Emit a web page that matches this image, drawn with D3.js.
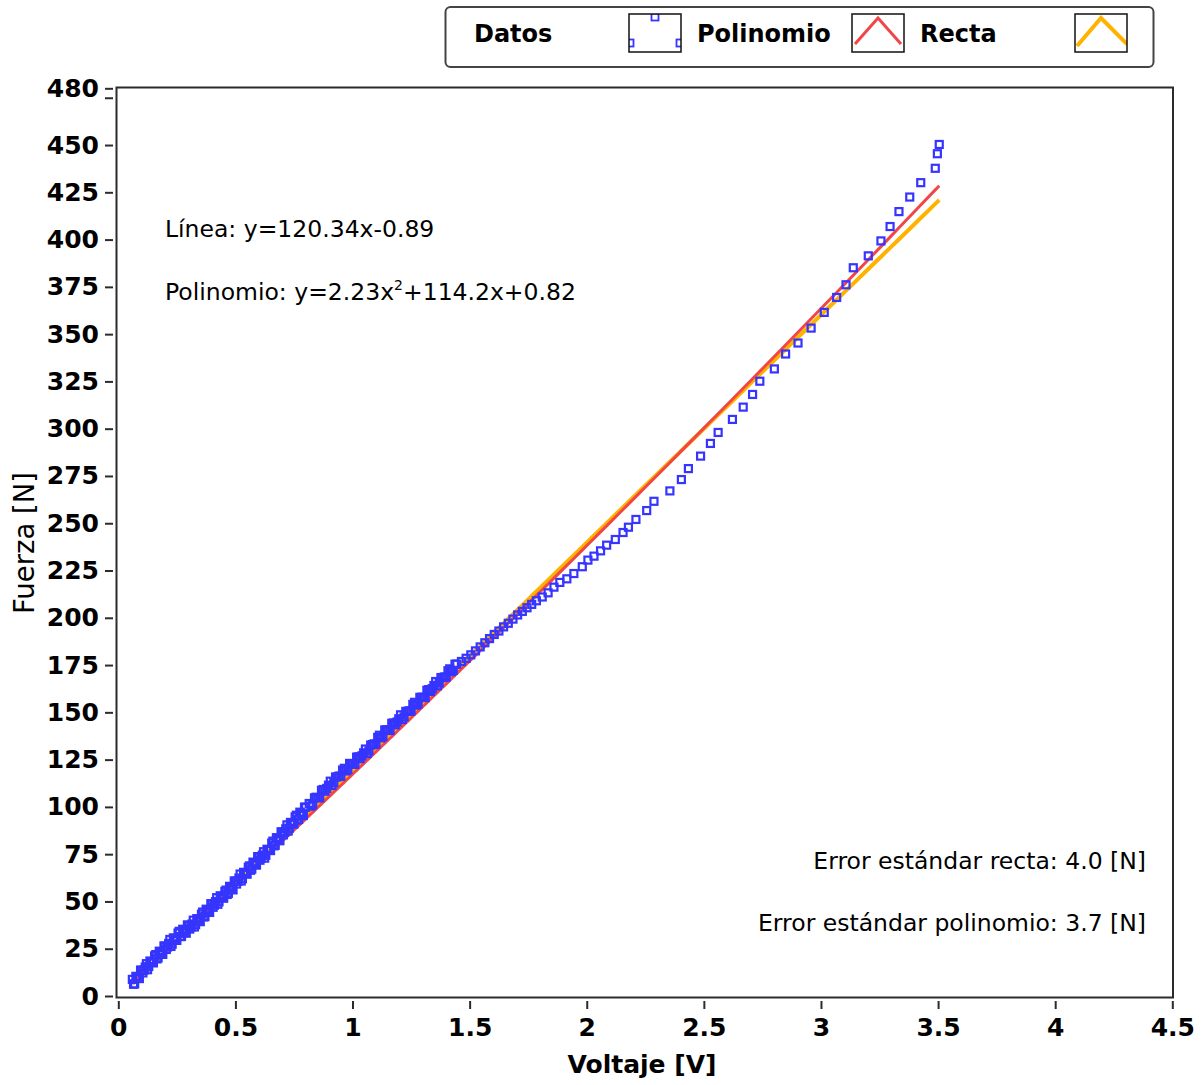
<!DOCTYPE html>
<html>
<head>
<meta charset="utf-8">
<script src="https://cdn.jsdelivr.net/npm/d3@7"></script>
<style>
  html, body { margin: 0; padding: 0; background: #fff; }
  svg { display: block; }
  text { font-family: "DejaVu Sans", Verdana, sans-serif; fill: #000; }
</style>
</head>
<body>
<div id="chart"></div>
<script>
// Medición, barrido 1: voltaje del sensor [V] y fuerza aplicada [N]
const voltaje = [
  0.06, 0.07, 0.08, 0.09, 0.10, 0.11, 0.12, 0.13, 0.14, 0.15,
  0.16, 0.17, 0.18, 0.19, 0.20, 0.21, 0.22, 0.23, 0.24, 0.25,
  0.26, 0.27, 0.28, 0.29, 0.30, 0.31, 0.32, 0.33, 0.34, 0.35,
  0.36, 0.37, 0.38, 0.39, 0.40, 0.41, 0.42, 0.43, 0.44, 0.45,
  0.46, 0.47, 0.48, 0.49, 0.50, 0.51, 0.52, 0.53, 0.54, 0.55,
  0.56, 0.57, 0.58, 0.59, 0.60, 0.61, 0.62, 0.63, 0.64, 0.65,
  0.66, 0.67, 0.68, 0.69, 0.70, 0.71, 0.72, 0.73, 0.74, 0.75,
  0.76, 0.77, 0.78, 0.79, 0.80,
  0.815, 0.83, 0.845, 0.86, 0.875, 0.89, 0.905, 0.92, 0.935, 0.95,
  0.965, 0.98, 0.995, 1.01, 1.025, 1.04, 1.055, 1.07, 1.085, 1.10,
  1.115, 1.13, 1.145, 1.16, 1.175, 1.19, 1.205, 1.22, 1.235, 1.25,
  1.265, 1.28, 1.295, 1.31, 1.325, 1.34, 1.355, 1.37, 1.385, 1.40,
  1.415, 1.43, 1.445,
  1.465, 1.485, 1.505, 1.525, 1.545, 1.565, 1.585, 1.605, 1.625, 1.645,
  1.665, 1.685, 1.705, 1.725, 1.745, 1.765, 1.785, 1.81, 1.835, 1.86,
  1.885, 1.915, 1.945,
  1.981, 2.005, 2.031, 2.059, 2.085, 2.122, 2.155, 2.178, 2.210, 2.256,
  2.287, 2.355, 2.404, 2.434, 2.486, 2.528, 2.561, 2.622, 2.668, 2.708,
  2.739, 2.801, 2.849, 2.902, 2.958, 3.014, 3.067, 3.107, 3.138, 3.202,
  3.256, 3.295, 3.333, 3.379, 3.426, 3.488, 3.497, 3.505
];
const fuerza = [
  8.8, 6.4, 10.2, 9.2, 13.6, 13.7, 17.1, 15.6, 17.9, 17.5,
  21.9, 20.1, 23.1, 22.0, 26.3, 25.9, 29.9, 27.4, 30.5, 29.4,
  34.2, 31.5, 34.9, 33.2, 37.3, 36.4, 40.1, 37.7, 40.5, 39.3,
  44.4, 42.0, 45.7, 44.2, 48.8, 48.0, 52.0, 49.8, 52.6, 51.7,
  56.0, 54.3, 57.6, 56.1, 60.8, 60.6, 64.5, 62.0, 65.2, 64.4,
  68.8, 67.1, 70.4, 69.2, 73.6, 72.9, 76.3, 74.4, 77.3, 76.9,
  81.9, 79.7, 83.5, 82.1, 86.8, 86.6, 90.5, 88.7, 91.4, 90.9,
  95.6, 93.4, 96.9, 95.4, 99.8,
  101.8, 101.1, 105.1, 104.8, 109.2, 109.8, 113.6, 112.8, 115.9, 116.2,
  120.4, 119.7, 122.9, 122.5, 126.5, 127.0, 130.6, 129.6, 133.0, 133.2,
  137.9, 137.2, 140.8, 140.4, 144.4, 144.9, 148.7, 147.6, 150.5, 150.7,
  155.3, 154.4, 158.0, 157.8, 162.0, 162.5, 166.3, 165.5, 168.4, 168.6,
  173.0, 172.2, 175.5,
  176.9, 178.6, 180.4, 182.5, 184.6, 186.8, 189.0, 191.2, 193.0, 195.2,
  197.1, 199.3, 201.5, 203.4, 205.3, 207.1, 209.0, 211.0, 213.2, 216.2,
  218.7, 220.6, 223.4,
  227.0, 230.5, 232.6, 235.4, 238.4, 241.4, 245.1, 247.9, 252.0, 256.7,
  261.6, 267.1, 273.1, 278.9, 285.5, 292.2, 298.0, 304.9, 311.4, 318.1,
  325.1, 331.6, 339.5, 345.3, 353.2, 361.5, 369.4, 376.1, 385.1, 391.4,
  399.3, 406.9, 414.8, 422.5, 430.1, 437.7, 445.4, 450.3
];

// Medición, barrido 2 (tramo bajo)
const voltaje2 = [
  0.065, 0.075, 0.085, 0.095, 0.105, 0.115, 0.125, 0.135, 0.145, 0.155,
  0.165, 0.175, 0.185, 0.195, 0.205, 0.215, 0.225, 0.235, 0.245, 0.255,
  0.265, 0.275, 0.285, 0.295, 0.305, 0.315, 0.325, 0.335, 0.345, 0.355,
  0.365, 0.375, 0.385, 0.395, 0.405, 0.415, 0.425, 0.435, 0.445, 0.455,
  0.465, 0.475, 0.485, 0.495, 0.505, 0.515, 0.525, 0.535, 0.545, 0.555,
  0.565, 0.575, 0.585, 0.595, 0.605, 0.615, 0.625, 0.635, 0.645, 0.655,
  0.665, 0.675, 0.685, 0.695, 0.705, 0.715, 0.725, 0.735, 0.745, 0.755,
  0.765, 0.775, 0.785, 0.795,
  0.8225, 0.8375, 0.8525, 0.8675, 0.8825, 0.8975, 0.9125, 0.9275, 0.9425, 0.9575,
  0.9725, 0.9875, 1.0025, 1.0175, 1.0325, 1.0475, 1.0625, 1.0775, 1.0925, 1.1075,
  1.1225, 1.1375, 1.1525, 1.1675, 1.1825, 1.1975, 1.2125, 1.2275, 1.2425, 1.2575,
  1.2725, 1.2875, 1.3025, 1.3175, 1.3325, 1.3475, 1.3625, 1.3775, 1.3925, 1.4075,
  1.4225, 1.4375
];
const fuerza2 = [
  6.2, 10.4, 9.6, 13.7, 12.2, 15.3, 13.9, 18.5, 17.9, 21.2,
  19.6, 23.7, 22.5, 26.5, 24.6, 27.8, 26.2, 30.7, 30.2, 33.3,
  31.4, 35.3, 34.0, 37.6, 35.4, 38.1, 36.5, 40.9, 40.1, 43.3,
  41.8, 45.9, 44.9, 48.8, 46.9, 49.9, 48.5, 53.0, 52.4, 55.3,
  53.7, 58.0, 56.8, 60.8, 59.2, 62.4, 60.8, 65.4, 65.0, 68.1,
  66.5, 70.8, 69.7, 73.7, 71.8, 74.5, 72.9, 77.6, 77.3, 80.9,
  79.4, 83.7, 82.7, 86.8, 85.2, 88.4, 87.2, 91.8, 91.4, 94.7,
  93.1, 97.2, 96.1, 99.9,
  100.4, 104.8, 104.9, 108.8, 108.3, 111.5, 111.3, 115.8, 116.3, 119.5,
  119.0, 123.0, 122.7, 126.3, 125.5, 128.6, 128.2, 132.7, 133.3, 136.8,
  136.5, 140.7, 140.6, 144.2, 143.4, 146.6, 146.2, 150.5, 150.8, 154.2,
  153.8, 157.9, 157.9, 161.7, 161.0, 164.2, 164.0, 168.4, 168.7, 172.0,
  171.5, 175.5
];

// Coeficientes de los ajustes
const recta = { m: 120.34, b: -0.89 };
const polinomio = { a: 2.23, b: 114.2, c: 0.82 };

// Ejes
const xTicks = [0, 0.5, 1, 1.5, 2, 2.5, 3, 3.5, 4, 4.5];
const yTicks = [0, 25, 50, 75, 100, 125, 150, 175, 200, 225, 250, 275, 300,
                325, 350, 375, 400, 425, 450, 475, 480];
const yTickLabels = [0, 25, 50, 75, 100, 125, 150, 175, 200, 225, 250, 275, 300,
                325, 350, 375, 400, 425, 450, 480];

const legendItems = ["Datos", "Polinomio", "Recta"];
const errores = ["Error estándar recta: 4.0 [N]", "Error estándar polinomio: 3.7 [N]"];

const W = 1203, H = 1085;
const frame = { left: 116.5, right: 1173, top: 87.5, bottom: 997.5 };

const svg = d3.select("#chart").append("svg")
  .attr("width", W).attr("height", H);

const x = d3.scaleLinear().domain([0, 4.5]).range([118.3, 1172.3]);
const y = d3.scaleLinear().domain([0, 480]).range([996, 88.3]);

const INK = "#2b2b2b";
const BLUE = "#3535ff", RED = "#f24646", ORANGE = "#ffb300";

// Marco del área de trazado
svg.append("rect")
  .attr("x", frame.left).attr("y", frame.top)
  .attr("width", frame.right - frame.left).attr("height", frame.bottom - frame.top)
  .attr("fill", "#fff").attr("stroke", INK).attr("stroke-width", 2);

// Eje Y
const gy = svg.append("g")
  .attr("transform", "translate(113,0)")
  .call(d3.axisLeft(y).tickValues(yTicks).tickSize(8).tickPadding(6)
        .tickFormat(d => yTickLabels.includes(d) ? String(d) : ""));
gy.select(".domain").remove();
gy.selectAll(".tick line").attr("stroke", INK).attr("stroke-width", 2);
gy.selectAll(".tick text")
  .style("font-family", "'DejaVu Sans', sans-serif")
  .style("font-weight", "bold").style("font-size", "25px").attr("fill", "#000");

// Eje X
const gx = svg.append("g")
  .attr("transform", "translate(0,1001)")
  .call(d3.axisBottom(x).tickValues(xTicks).tickSize(8).tickPadding(9)
        .tickFormat(d3.format("")));
gx.select(".domain").remove();
gx.selectAll(".tick line").attr("stroke", INK).attr("stroke-width", 2);
gx.selectAll(".tick text")
  .style("font-family", "'DejaVu Sans', sans-serif")
  .style("font-weight", "bold").style("font-size", "25px").attr("fill", "#000");

// Títulos de los ejes
svg.append("text")
  .attr("x", 642).attr("y", 1073).attr("text-anchor", "middle")
  .style("font-weight", "bold").style("font-size", "25px")
  .text("Voltaje [V]");
svg.append("text")
  .attr("transform", "translate(34,543) rotate(-90)")
  .attr("text-anchor", "middle")
  .style("font-size", "27.5px")
  .text("Fuerza [N]");

// Curvas ajustadas evaluadas en cada voltaje medido
const plot = svg.append("g");
const todosV = d3.sort(voltaje.concat(voltaje2));
const fitRecta = todosV.map(v => [v, recta.m * v + recta.b]);
const fitPoli = todosV.map(v => [v, polinomio.a * v * v + polinomio.b * v + polinomio.c]);
const line = d3.line().x(d => x(d[0])).y(d => y(d[1]));

plot.append("path").datum(fitRecta)
  .attr("d", line).attr("fill", "none")
  .attr("stroke", ORANGE).attr("stroke-width", 4).attr("stroke-linejoin", "round");
plot.append("path").datum(fitPoli)
  .attr("d", line).attr("fill", "none")
  .attr("stroke", RED).attr("stroke-width", 3).attr("stroke-linejoin", "round");

// Datos medidos (cuadros huecos)
const S = 7;
const datos = d3.zip(voltaje, fuerza).concat(d3.zip(voltaje2, fuerza2));
plot.selectAll("rect.dato")
  .data(datos)
  .join("rect").attr("class", "dato")
  .attr("x", d => x(d[0]) - S / 2).attr("y", d => y(d[1]) - S / 2)
  .attr("width", S).attr("height", S)
  .attr("fill", "none").attr("stroke", BLUE).attr("stroke-width", 2.2);

// Ecuaciones de ajuste
const eq = svg.append("g").style("font-size", "23.5px");
eq.append("text").attr("x", 165).attr("y", 237).text("Línea: y=120.34x-0.89");
const t2 = eq.append("text").attr("x", 165).attr("y", 300);
t2.append("tspan").text("Polinomio: y=2.23x");
t2.append("tspan").attr("dy", -10).style("font-size", "14px").text("2");
t2.append("tspan").attr("dy", 10).text("+114.2x+0.82");

// Errores estándar
svg.append("g").style("font-size", "23.5px")
  .selectAll("text").data(errores).join("text")
  .attr("x", 1146).attr("y", (d, i) => 869 + i * 62)
  .attr("text-anchor", "end").text(d => d);

// Leyenda
const leg = svg.append("g");
leg.append("rect")
  .attr("x", 445.5).attr("y", 7).attr("width", 708).attr("height", 60)
  .attr("rx", 5).attr("fill", "#fff").attr("stroke", "#444").attr("stroke-width", 2);
const labelX = [474, 697, 920];
leg.selectAll("text.lab").data(legendItems).join("text").attr("class", "lab")
  .attr("x", (d, i) => labelX[i]).attr("y", 42)
  .style("font-weight", "bold").style("font-size", "24px").text(d => d);

const swX = [629, 852, 1075];
const defs = svg.append("defs");
swX.forEach((sx, i) => {
  defs.append("clipPath").attr("id", "sw" + i)
    .append("rect").attr("x", sx).attr("y", 14).attr("width", 52).attr("height", 38);
});
// Muestra de datos
const sw0 = leg.append("g").attr("clip-path", "url(#sw0)");
[[655, 17], [630, 43], [680, 43]].forEach(p => {
  sw0.append("rect").attr("x", p[0] - 3.5).attr("y", p[1] - 3.5)
    .attr("width", 7).attr("height", 7)
    .attr("fill", "none").attr("stroke", BLUE).attr("stroke-width", 1.8);
});
// Muestras de las curvas
const chevron = d3.line();
leg.append("g").attr("clip-path", "url(#sw1)")
  .append("path").attr("d", chevron([[855, 44], [878, 18], [901, 44]]))
  .attr("fill", "none").attr("stroke", RED).attr("stroke-width", 3);
leg.append("g").attr("clip-path", "url(#sw2)")
  .append("path").attr("d", chevron([[1077, 46], [1101, 18], [1127, 44]]))
  .attr("fill", "none").attr("stroke", ORANGE).attr("stroke-width", 4);
swX.forEach(sx => {
  leg.append("rect").attr("x", sx).attr("y", 14).attr("width", 52).attr("height", 38)
    .attr("fill", "none").attr("stroke", "#111").attr("stroke-width", 1.5);
});
</script>
</body>
</html>
